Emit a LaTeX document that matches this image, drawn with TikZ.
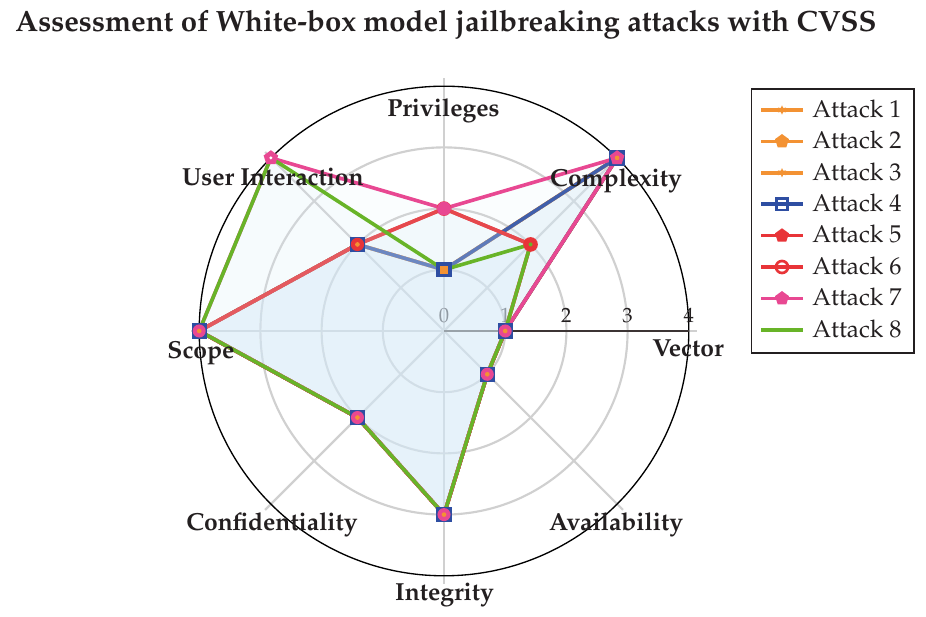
\documentclass[tikz,border=0pt]{standalone}
\usepackage[T1]{fontenc}
\renewcommand{\rmdefault}{ppl}
\usetikzlibrary{shapes.geometric}
\definecolor{corange}{RGB}{243,146,51}
\definecolor{cblue}{RGB}{46,78,162}
\definecolor{cred}{RGB}{232,52,56}
\definecolor{cpink}{RGB}{232,72,146}
\definecolor{cgreen}{RGB}{104,180,40}
\definecolor{cfill}{RGB}{218,237,250}
\definecolor{cgrid}{RGB}{208,208,208}
\definecolor{caxis}{RGB}{60,52,52}
\definecolor{ctext}{RGB}{35,31,32}
\newcommand{\radarR}{61.2}
\newcommand{\radarpath}[8]{(0:#1*\radarR) -- (45:#2*\radarR) -- (90:#3*\radarR) -- (135:#4*\radarR) -- (180:#5*\radarR) -- (225:#6*\radarR) -- (270:#7*\radarR) -- (315:#8*\radarR) -- cycle}
\tikzset{
  gridline/.style={cgrid, line width=1.6pt},
  attackfill/.style={fill=cfill, fill opacity=0.11},
  attackline/.style={line width=2.7pt, line join=round},
  axislabel/.style={font=\fontsize{18.5}{22}\bfseries\selectfont, text=ctext, anchor=base, inner sep=0pt},
  ticklabel/.style={font=\fontsize{15.5}{18}\selectfont, text=ctext, anchor=base, inner sep=0pt},
  legtext/.style={font=\fontsize{18.2}{22}\selectfont, text=ctext, anchor=base west, inner sep=0pt},
  bsq/.style={rectangle, fill=cblue, minimum size=11.5pt, inner sep=0pt},
  osq/.style={rectangle, fill=corange, minimum size=5.8pt, inner sep=0pt},
  pdisk/.style={circle, fill=cpink, minimum size=9.8pt, inner sep=0pt},
  rdisk/.style={circle, fill=cred, minimum size=11pt, inner sep=0pt},
  odot/.style={circle, fill=corange, minimum size=3.5pt, inner sep=0pt},
  gdot/.style={circle, fill=cgreen, minimum size=3pt, inner sep=0pt},
  wdot/.style={circle, fill=white, minimum size=2.5pt, inner sep=0pt},
  ppent/.style={regular polygon, regular polygon sides=5, fill=cpink, minimum size=11.5pt, inner sep=0pt},
  legline/.style={line width=2.6pt},
  lstar/.style={star, star points=6, star point ratio=2, fill=corange, minimum size=7pt, inner sep=0pt},
  lpent/.style={regular polygon, regular polygon sides=5, minimum size=11pt, inner sep=0pt},
  lsq/.style={rectangle, draw=cblue, line width=1.8pt, minimum size=8.5pt, inner sep=0pt},
  lcirc/.style={circle, draw=cred, line width=2pt, minimum size=9pt, inner sep=0pt},
}
\begin{document}
\begin{tikzpicture}[x=0.75pt,y=0.75pt]
\fill[white] (0,0) rectangle (926,617);
\useasboundingbox (0,0) rectangle (926,617);
\node[font=\fontsize{22}{26}\bfseries\selectfont, text=ctext, anchor=base, inner sep=0pt] (title) at (446,585.3) {Assessment of White-box model jailbreaking attacks with CVSS};
\begin{scope}[shift={(444,286)}]
  % grid
  \foreach \k in {1,2,3} \draw[gridline] (0,0) circle[radius=\k*\radarR];
  \foreach \a in {0,45,...,315} \draw[gridline] (0,0) -- (\a:253);
  \draw[black, line width=1pt] (0,0) circle[radius=4*\radarR];
  \draw[caxis, line width=1.5pt] (0,0) -- (4*\radarR,0);
  % tick labels
  \node[ticklabel] (t0) at (0,8.3) {0};
  \node[ticklabel] (t1) at (1*\radarR,8.3) {1};
  \node[ticklabel] (t2) at (2*\radarR,8.3) {2};
  \node[ticklabel] (t3) at (3*\radarR,8.3) {3};
  \node[ticklabel] (t4) at (4*\radarR,8.3) {4};
  % attacks 1-3 (orange)
  \foreach \i in {1,2,3}{
    \fill[attackfill] \radarpath{1}{4}{1}{2}{4}{2}{3}{1};
    \draw[attackline, corange] \radarpath{1}{4}{1}{2}{4}{2}{3}{1};
  }
  % attack 4 (blue)
  \fill[attackfill] \radarpath{1}{4}{1}{2}{4}{2}{3}{1};
  \draw[attackline, cblue] \radarpath{1}{4}{1}{2}{4}{2}{3}{1};
  % attacks 5, 6 (red)
  \foreach \i in {5,6}{
    \fill[attackfill] \radarpath{1}{2}{2}{2}{4}{2}{3}{1};
    \draw[attackline, cred] \radarpath{1}{2}{2}{2}{4}{2}{3}{1};
  }
  % attack 7 (pink)
  \fill[attackfill] \radarpath{1}{4}{2}{4}{4}{2}{3}{1};
  \draw[attackline, cpink] \radarpath{1}{4}{2}{4}{4}{2}{3}{1};
  % attack 8 (green)
  \fill[attackfill] \radarpath{1}{2}{1}{4}{4}{2}{3}{1};
  \draw[attackline, cgreen] \radarpath{1}{2}{1}{4}{4}{2}{3}{1};
  % markers: points shared by all attacks
  \foreach \a/\v/\n in {0/1/vec, 315/1/ava, 225/2/con, 270/3/int, 180/4/sco}{
    \node[bsq] (sq\n) at (\a:\v*\radarR) {};
    \node[pdisk] (pd\n) at (\a:\v*\radarR) {};
    \node[odot] (od\n) at (\a:\v*\radarR) {};
  }
  % complexity 4
  \node[bsq] (sqcomA) at (45:4*\radarR) {};
  \node[ppent] (ppcomA) at (45:4*\radarR) {};
  \node[odot] (odcomA) at (45:4*\radarR) {};
  % user interaction 2
  \node[bsq] (squiA) at (135:2*\radarR) {};
  \node[rdisk, minimum size=10pt] (rduiA) at (135:2*\radarR) {};
  \node[odot] (oduiA) at (135:2*\radarR) {};
  % privileges 1
  \node[bsq] (sqprA) at (90:1*\radarR) {};
  \node[osq] (osprA) at (90:1*\radarR) {};
  % privileges 2
  \node[rdisk] (rdprB) at (90:2*\radarR) {};
  \node[pdisk, minimum size=10.5pt] (pdprB) at (90:2*\radarR) {};
  % complexity 2
  \node[rdisk] (rdcomB) at (45:2*\radarR) {};
  \node[gdot] (gdcomB) at (45:2*\radarR) {};
  % user interaction 4
  \node[ppent] (ppuiB) at (135:4*\radarR) {};
  \node[wdot] (wduiB) at (135:4*\radarR) {};
\end{scope}
% axis labels
\node[axislabel] (lpriv) at (443.5,500.3) {Privileges};
\node[axislabel] (lui) at (273,431) {User Interaction};
\node[axislabel] (lcomp) at (616,430.3) {Complexity};
\node[axislabel] (lscope) at (201,258.7) {Scope};
\node[axislabel] (lvec) at (688,260.3) {Vector};
\node[axislabel] (lconf) at (272,86.3) {Confidentiality};
\node[axislabel] (lavail) at (616,86) {Availability};
\node[axislabel] (lint) at (444.5,16) {Integrity};
% legend
\draw[ctext, line width=1pt] (751.7,264) rectangle (914,528);
\draw[legline, corange] (761,507) -- (803,507);
\node[lstar] (m1) at (782,507) {};
\node[legtext] (a1) at (812,499.7) {Attack 1};
\draw[legline, corange] (761,475.6) -- (803,475.6);
\node[lpent, fill=corange] (m2) at (782,475.6) {};
\node[legtext] (a2) at (812,468.3) {Attack 2};
\draw[legline, corange] (761,444.2) -- (803,444.2);
\node[lstar] (m3) at (782,444.2) {};
\node[legtext] (a3) at (812,436.9) {Attack 3};
\draw[legline, cblue] (761,412.8) -- (803,412.8);
\node[lsq] (m4) at (782,412.8) {};
\node[legtext] (a4) at (812,405.5) {Attack 4};
\draw[legline, cred] (761,381.4) -- (803,381.4);
\node[lpent, fill=cred] (m5) at (782,381.4) {};
\node[legtext] (a5) at (812,374.1) {Attack 5};
\draw[legline, cred] (761,350) -- (803,350);
\node[lcirc] (m6) at (782,350) {};
\node[legtext] (a6) at (812,342.7) {Attack 6};
\draw[legline, cpink] (761,318.6) -- (803,318.6);
\node[lpent, fill=cpink] (m7) at (782,318.6) {};
\node[legtext] (a7) at (812,311.3) {Attack 7};
\draw[legline, cgreen] (761,287.2) -- (803,287.2);
\node[legtext] (a8) at (812,279.9) {Attack 8};
\end{tikzpicture}
\end{document}
